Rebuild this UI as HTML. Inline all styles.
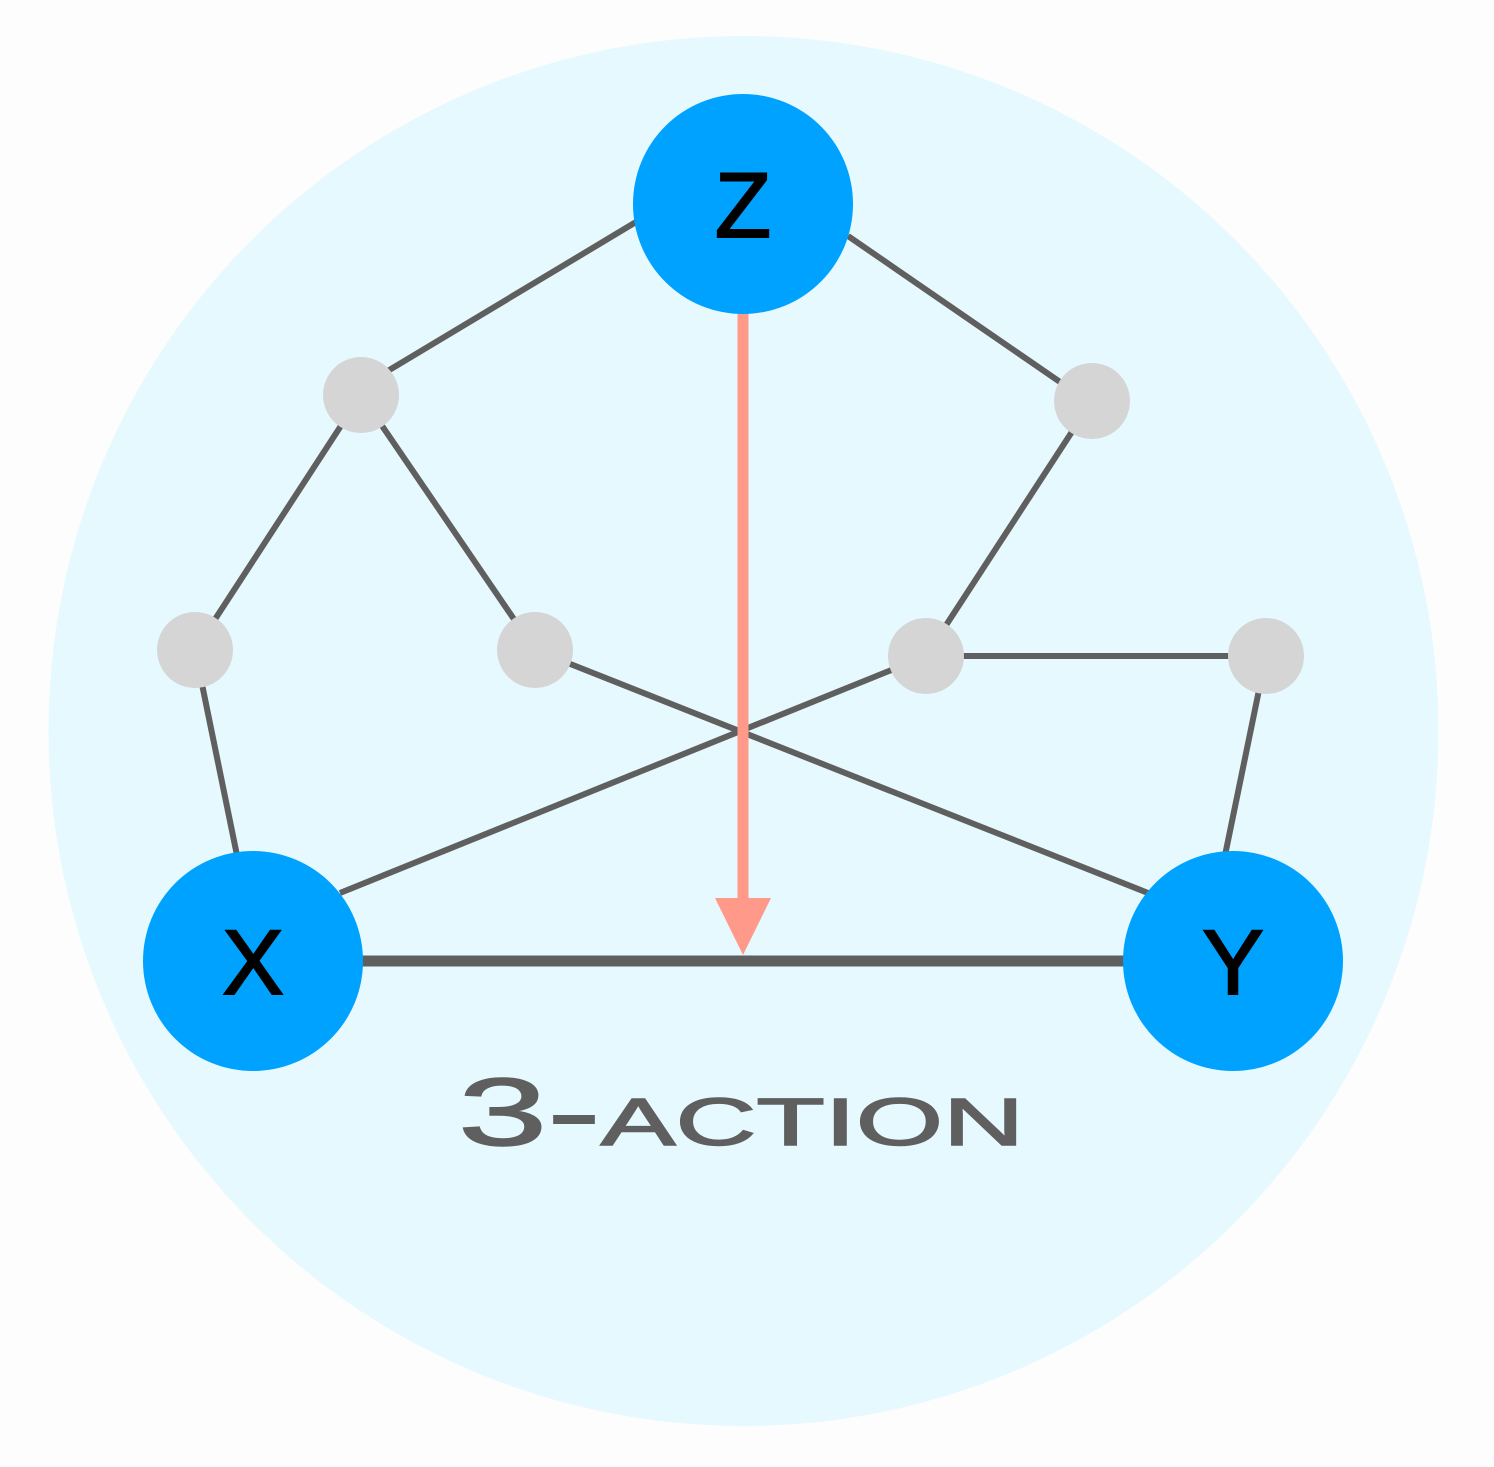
<!DOCTYPE html>
<html><head><meta charset="utf-8">
<style>
html,body{margin:0;padding:0;background:#fdfdfd;}
svg{display:block;}
</style></head>
<body>
<svg id="chart" width="1494" height="1467" viewBox="0 0 1494 1467" xmlns="http://www.w3.org/2000/svg">
<rect width="1494" height="1467" fill="#fdfdfd"/>
<circle cx="743.5" cy="731" r="695" fill="#e6f9fe"/>
<g id="edges"></g>
<g id="arrow"></g>
<g id="nodes"></g>
<text x="741" y="1145" text-anchor="middle" font-family="'Liberation Sans', sans-serif" font-size="96" fill="#5f5f5f" stroke="#5f5f5f" stroke-width="1.5" style="font-variant:small-caps" textLength="566" lengthAdjust="spacingAndGlyphs">3-action</text>
</svg>
<script>
const nodeNames = ['Z','X','Y','a','b','c','d','e','f'];
const nodeX = [743,253,1233,361,1092,195,535,926,1266];
const nodeY = [204,961,961,395,401,650,650,656,656];
const nodeLabels = ['Z','X','Y','','','','','',''];
const edgeNames = ['Z-a','Z-b','a-c','a-d','c-X','d-Y','b-e','e-X','e-f','f-Y','X-Y'];
const edgeX1 = [636,848,361,361,195,535,1092,926,926,1266,253];
const edgeY1 = [222,236,395,395,650,650,401,656,656,656,961];
const edgeX2 = [361,1092,195,535,240,1148,926,340,1266,1222,1233];
const edgeY2 = [387,404,650,650,870,893,656,893,656,870,961];
const NS='http://www.w3.org/2000/svg';
const eg=document.getElementById('edges');
edgeNames.forEach((n,i)=>{
  const l=document.createElementNS(NS,'line');
  l.setAttribute('x1',edgeX1[i]);l.setAttribute('y1',edgeY1[i]);
  l.setAttribute('x2',edgeX2[i]);l.setAttribute('y2',edgeY2[i]);
  l.setAttribute('stroke','#5f5f5f');
  l.setAttribute('stroke-width',n==='X-Y'?11:6);
  
  
  eg.appendChild(l);
});
const ag=document.getElementById('arrow');
const zx=nodeX[0],zy=nodeY[0],xyY=nodeY[1];
const shaft=document.createElementNS(NS,'line');
shaft.setAttribute('x1',zx);shaft.setAttribute('y1',zy+105);
shaft.setAttribute('x2',zx);shaft.setAttribute('y2',xyY-62);
shaft.setAttribute('stroke','#ff9a8a');shaft.setAttribute('stroke-width',11);


ag.appendChild(shaft);
const head=document.createElementNS(NS,'polygon');
head.setAttribute('points',`${zx-28},${xyY-63} ${zx+28},${xyY-63} ${zx},${xyY-6}`);
head.setAttribute('fill','#ff9a8a');


ag.appendChild(head);
const ng=document.getElementById('nodes');
nodeNames.forEach((n,i)=>{
  const big=nodeLabels[i]!=='';
  const c=document.createElementNS(NS,'circle');
  c.setAttribute('cx',nodeX[i]);c.setAttribute('cy',nodeY[i]);
  c.setAttribute('r',big?110:38);
  c.setAttribute('fill',big?'#00a2ff':'#d5d5d5');
  
  
  ng.appendChild(c);
  if(big){
    const t=document.createElementNS(NS,'text');
    t.setAttribute('x',nodeX[i]);t.setAttribute('y',nodeY[i]+33);
    t.setAttribute('text-anchor','middle');
    t.setAttribute('font-family',"'Liberation Sans', sans-serif");
    t.setAttribute('font-size','92');t.setAttribute('fill','#000');
    t.setAttribute('stroke','#000');t.setAttribute('stroke-width','2');
    t.textContent=nodeLabels[i];
    
    
    ng.appendChild(t);
  }
});
</script>
</body></html>
